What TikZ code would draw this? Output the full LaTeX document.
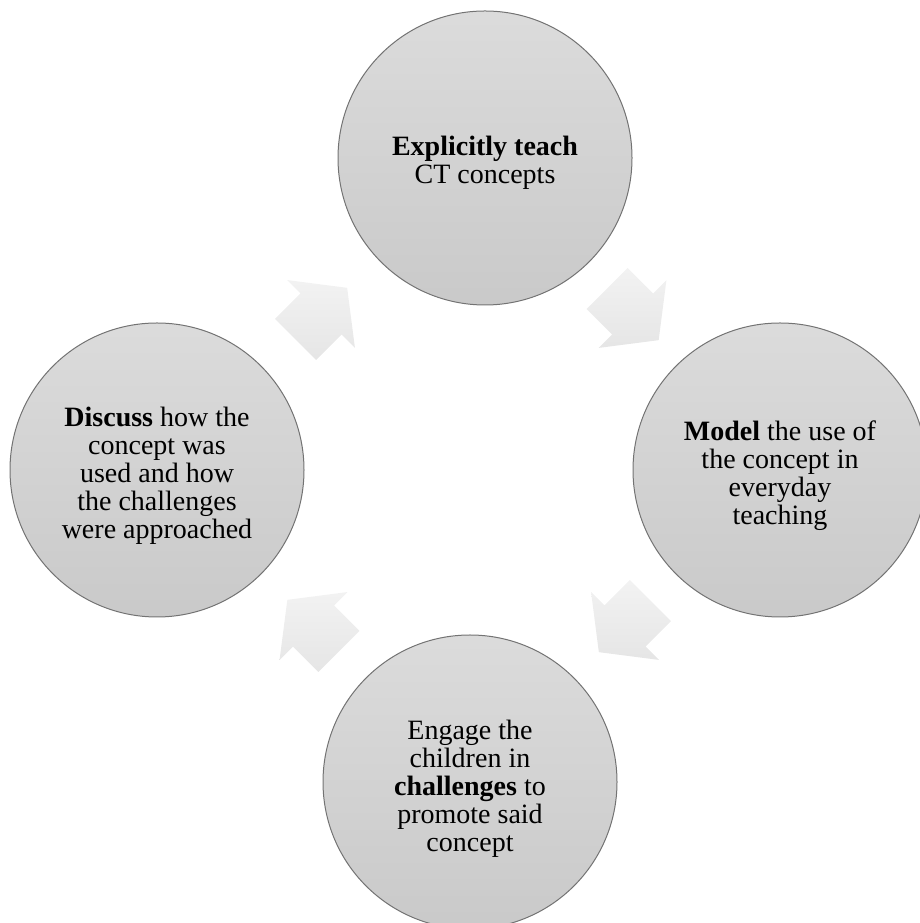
\documentclass[tikz,border=0pt]{standalone}
\usepackage{fontspec}
\setmainfont{Liberation Serif}
\usetikzlibrary{calc}
\usetikzlibrary{positioning}

\tikzset{
    stage/.style={circle, draw=black!55, line width=1pt, top color=black!14, bottom color=black!21,
        minimum size=294pt, inner sep=0pt},
    stagetext/.style={align=center, inner sep=0pt, font=\fontsize{28}{28}\selectfont},
    cyclearrow/.style={top color=black!5, bottom color=black!10, draw=none}
}

% block arrow half way between two stages
\newcommand{\stagearrow}[3]{%
    \path[cyclearrow, shift={($(#1)!0.5!(#2)$)}, rotate=#3]
        (-36,29) -- (0,29) -- (0,48) -- (37,0) -- (0,-48) -- (0,-29) -- (-36,-29) -- cycle;}

\begin{document}
\begin{tikzpicture}[x=1pt, y=1pt]
            \useasboundingbox (0,0) rectangle (919,923);

            \begin{scope}[every node/.style={stage}]
                \node (teach) at (485,765) {};
                \node (model) at (780,453) {};
                \node (engage) at (470,141) {};
                \node (discuss) at (157,453) {};
            \end{scope}

            \begin{scope}[every node/.style={stagetext}]
                \node (teachtxt) at ([yshift=-5pt]teach) {\textbf{Explicitly teach}\\CT concepts};
                \node (modeltxt) at ([yshift=-6pt]model) {\textbf{Model} the use of\\the concept in\\everyday\\teaching};
                \node (engagetxt) at ([yshift=-7pt]engage) {Engage the\\children in\\\textbf{challenges} to\\promote said\\concept};
                \node (discusstxt) at ([yshift=-6pt]discuss) {\textbf{Discuss} how the\\concept was\\used and how\\the challenges\\were approached};
            \end{scope}

            \stagearrow{teach}{model}{-45}
            \stagearrow{model}{engage}{-135}
            \stagearrow{engage}{discuss}{135}
            \stagearrow{discuss}{teach}{45}
        \end{tikzpicture}
\end{document}
